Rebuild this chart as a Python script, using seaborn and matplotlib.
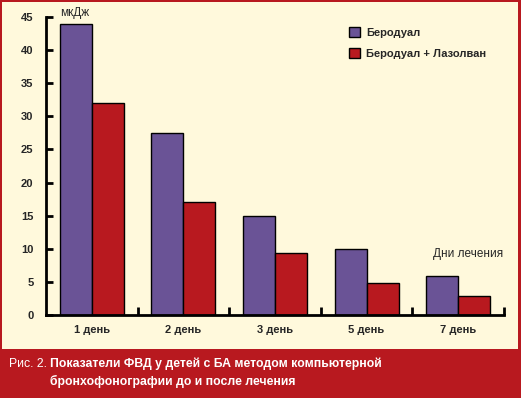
import matplotlib
matplotlib.use("Agg")
import matplotlib.pyplot as plt
import matplotlib.patches as mpatches
import seaborn as sns
import pandas as pd

days = ["1 день", "2 день", "3 день", "5 день", "7 день"]
berodual = [44, 27.5, 15, 10, 5.9]
berodual_lazolvan = [32, 17, 9.4, 4.9, 2.9]
series_names = ["Беродуал", "Беродуал + Лазолван"]
y_ticks = [0, 5, 10, 15, 20, 25, 30, 35, 40, 45]

colors = {
    "Беродуал": "#6a5396",
    "Беродуал + Лазолван": "#b8191f",
}
cream = "#fff9dc"
frame_red = "#b8191f"

sns.set_theme(style="white")
fonts = ["Liberation Sans", "DejaVu Sans"]
plt.rcParams["font.family"] = fonts

df = pd.DataFrame({
    "day": days * 2,
    "value": berodual + berodual_lazolvan,
    "series": [series_names[0]] * len(days) + [series_names[1]] * len(days),
})

fig = plt.figure(figsize=(5.21, 3.98), dpi=100, facecolor=frame_red)
# cream panel inside the red frame
fig.patches.append(mpatches.Rectangle((2 / 521, 49 / 398), 516 / 521, 347 / 398,
                                      transform=fig.transFigure, facecolor=cream,
                                      edgecolor="none", zorder=-10))

ax = fig.add_axes([46 / 521, 83 / 398, 458 / 521, 298 / 398])
ax.set_facecolor("none")
ax.set_zorder(5)

sns.barplot(data=df, x="day", y="value", hue="series", order=days,
            hue_order=series_names, palette=colors, saturation=1, width=0.7, gap=0,
            edgecolor="black", linewidth=1.0, ax=ax, legend=False)

ax.set_xlim(-0.5, len(days) - 0.5)
ax.set_ylim(0, 45)
ax.set_yticks(y_ticks)
ax.set_xlabel("")
ax.set_ylabel("")

for side in ["top", "right"]:
    ax.spines[side].set_visible(False)
for side in ["left", "bottom"]:
    ax.spines[side].set_color("black")
    ax.spines[side].set_linewidth(2)

ax.tick_params(axis="y", left=True, direction="in", length=5, width=2, color="black",
               labelsize=8, pad=9)
ax.tick_params(axis="x", which="major", bottom=False, length=0, labelsize=8, pad=7)
ax.set_xticks([i + 0.5 for i in range(len(days))], minor=True)
ax.tick_params(axis="x", which="minor", bottom=True, direction="in", length=6, width=2,
               color="black")
for lbl in ax.get_xticklabels() + ax.get_yticklabels():
    lbl.set_fontweight("bold")

ax.text(0.03, 1.015, "мкДж", transform=ax.transAxes, fontsize=8.5,
        va="center", ha="left")
ax.text(0.997, 9.2, "Дни лечения", fontsize=8.5, va="center", ha="right",
        transform=ax.get_yaxis_transform())

handles = [mpatches.Patch(facecolor=colors[s], edgecolor="black", linewidth=1, label=s)
           for s in series_names]
leg = ax.legend(handles=handles, loc="upper left", bbox_to_anchor=(0.64, 1.0),
                frameon=False, handlelength=0.95, handleheight=0.95,
                handletextpad=0.6, labelspacing=0.95,
                prop={"family": fonts, "weight": "bold", "size": 8})

fig.text(9 / 521, 1 - 364 / 398, "Рис. 2.", color="white", fontsize=8.8,
         va="center", ha="left")
fig.text(50 / 521, 1 - 364 / 398, "Показатели ФВД у детей с БА методом компьютерной",
         color="white", fontsize=8.8, fontweight="bold", va="center", ha="left")
fig.text(50 / 521, 1 - 381 / 398, "бронхофонографии до и после лечения",
         color="white", fontsize=8.8, fontweight="bold", va="center", ha="left")

fig.savefig("out.png", dpi=100, facecolor=frame_red)
